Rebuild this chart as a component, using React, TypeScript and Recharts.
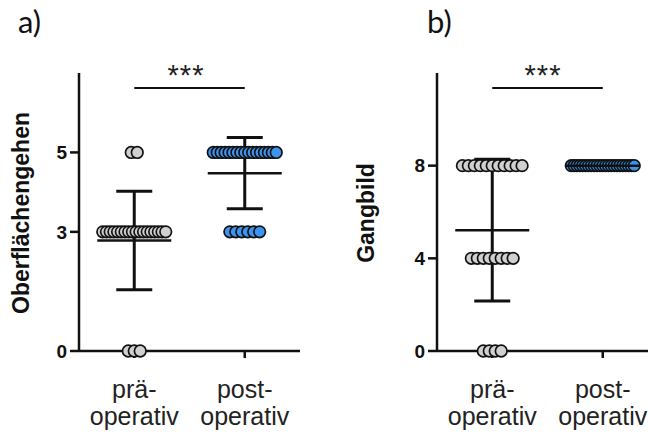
import { ScatterChart, Scatter, XAxis, YAxis, ErrorBar, ReferenceLine } from "recharts";

// score levels and how many patients sit on each level
const scoresA = [0, 3, 5];
const praeCountsA = [3, 18, 2];
const postCountsA = [0, 6, 17];

const scoresB = [0, 4, 8];
const praeCountsB = [4, 8, 11];
const postCountsB = [0, 0, 23];

const ticksA = [0, 3, 5];
const ticksB = [0, 4, 8];

const groupPos = [1, 2];
const groupLabels = [
  ["prä-", "operativ"],
  ["post-", "operativ"],
];

const GREY = "#d0d0d0";
const BLUE = "#3d94f0";
const INK = "#111";
const FONT = "'Liberation Sans', Arial, sans-serif";

// column scatter: points with the same score are spread side by side
function columnPoints(scores: number[], counts: number[], pos: number) {
  const out: { x: number; y: number }[] = [];
  scores.forEach((s, j) => {
    const k = counts[j];
    const step = k > 1 ? Math.min(0.054, 0.57 / (k - 1)) : 0;
    for (let i = 0; i < k; i++) {
      out.push({ x: pos + (i - (k - 1) / 2) * step, y: s });
    }
  });
  return out;
}

function meanSd(scores: number[], counts: number[], pos: number) {
  const n = counts.reduce((a, b) => a + b, 0);
  const mean = scores.reduce((acc, s, j) => acc + s * counts[j], 0) / n;
  const ss = scores.reduce((acc, s, j) => acc + counts[j] * (s - mean) ** 2, 0);
  const sd = Math.sqrt(ss / (n - 1));
  return [{ x: pos, y: mean, sd }];
}

const Dot = (fill: string) => (props: any) => (
  <circle cx={props.cx} cy={props.cy} r={5.8} fill={fill} stroke={INK} strokeWidth={1.7} />
);

const MeanLine = (props: any) => (
  <line x1={props.cx - 37} x2={props.cx + 37} y1={props.cy} y2={props.cy} stroke={INK} strokeWidth={2.5} />
);

const XTick = (props: any) => {
  const { x, y, payload } = props;
  const idx = groupPos.indexOf(payload.value);
  const lines = groupLabels[idx] || ["", ""];
  return (
    <g>
      <text x={x} y={y + 38} textAnchor="middle" fontSize={25} fill="#222" fontFamily={FONT}>
        {lines[0]}
      </text>
      <text x={x} y={y + 65} textAnchor="middle" fontSize={25} fill="#222" fontFamily={FONT}>
        {lines[1]}
      </text>
    </g>
  );
};

type PanelProps = {
  left: number;
  width: number;
  marginRight: number;
  yAxisWidth: number;
  scores: number[];
  prae: number[];
  post: number[];
  ticks: number[];
  yMax: number;
  sigLevel: number;
};

function Panel(p: PanelProps) {
  const praeDots = columnPoints(p.scores, p.prae, groupPos[0]);
  const postDots = columnPoints(p.scores, p.post, groupPos[1]);
  const praeStats = meanSd(p.scores, p.prae, groupPos[0]);
  const postStats = meanSd(p.scores, p.post, groupPos[1]);
  return (
    <div style={{ position: "absolute", left: p.left, top: 0 }}>
      <ScatterChart
        width={p.width}
        height={435}
        margin={{ top: 73, right: p.marginRight, bottom: 24, left: 0 }}
      >
        <XAxis
          type="number"
          dataKey="x"
          domain={[0.5, 2.5]}
          ticks={groupPos}
          tick={<XTick />}
          tickSize={7}
          tickMargin={2}
          height={60}
          axisLine={{ stroke: INK, strokeWidth: 2.5 }}
          tickLine={{ stroke: INK, strokeWidth: 2.5 }}
          interval={0}
        />
        <YAxis
          type="number"
          dataKey="y"
          domain={[0, p.yMax]}
          ticks={p.ticks}
          width={p.yAxisWidth}
          tickSize={9}
          tickMargin={3}
          axisLine={{ stroke: INK, strokeWidth: 2.5 }}
          tickLine={{ stroke: INK, strokeWidth: 2.5 }}
          tick={{ fontSize: 19, fontWeight: "bold", fill: INK, fontFamily: FONT }}
          interval={0}
        />
        <ReferenceLine
          segment={[
            { x: groupPos[0], y: p.sigLevel },
            { x: groupPos[1], y: p.sigLevel },
          ]}
          stroke={INK}
          strokeWidth={2}
        />
        <Scatter data={praeDots} shape={Dot(GREY)} isAnimationActive={false} />
        <Scatter data={postDots} shape={Dot(BLUE)} isAnimationActive={false} />
        <Scatter data={praeStats} shape={MeanLine} isAnimationActive={false}>
          <ErrorBar dataKey="sd" direction="y" width={18} stroke={INK} strokeWidth={3} isAnimationActive={false} />
        </Scatter>
        <Scatter data={postStats} shape={MeanLine} isAnimationActive={false}>
          <ErrorBar dataKey="sd" direction="y" width={18} stroke={INK} strokeWidth={3} isAnimationActive={false} />
        </Scatter>
      </ScatterChart>
    </div>
  );
}

export default function App() {
  return (
    <div
      style={{
        position: "absolute",
        left: 0,
        top: 0,
        width: 648,
        height: 435,
        overflow: "hidden",
        background: "#fff",
      }}
    >
      <Panel
        left={0}
        width={330}
        marginRight={30}
        yAxisWidth={79}
        scores={scoresA}
        prae={praeCountsA}
        post={postCountsA}
        ticks={ticksA}
        yMax={7}
        sigLevel={6.62}
      />
      <Panel
        left={330}
        width={340}
        marginRight={12}
        yAxisWidth={107}
        scores={scoresB}
        prae={praeCountsB}
        post={postCountsB}
        ticks={ticksB}
        yMax={12}
        sigLevel={11.35}
      />
      <svg
        width={648}
        height={435}
        style={{ position: "absolute", left: 0, top: 0, pointerEvents: "none" }}
      >
        <text x={18} y={33} fontSize={31} fontFamily="Lato, sans-serif" fill={INK}>
          a)
        </text>
        <text x={427} y={33} fontSize={31} fontFamily="Lato, sans-serif" fill={INK}>
          b)
        </text>
        <text
          transform="translate(28.5,213) rotate(-90)"
          textAnchor="middle"
          fontSize={23}
          fontWeight="bold"
          fontFamily={FONT}
          fill={INK}
        >
          Oberflächengehen
        </text>
        <text
          transform="translate(374,213) rotate(-90)"
          textAnchor="middle"
          fontSize={23}
          fontWeight="bold"
          fontFamily={FONT}
          fill={INK}
        >
          Gangbild
        </text>
        <text x={186} y={85} textAnchor="middle" fontSize={29} letterSpacing={1} fontFamily={FONT} fill="#222">
          ***
        </text>
        <text x={543} y={85} textAnchor="middle" fontSize={29} letterSpacing={1} fontFamily={FONT} fill="#222">
          ***
        </text>
      </svg>
    </div>
  );
}
